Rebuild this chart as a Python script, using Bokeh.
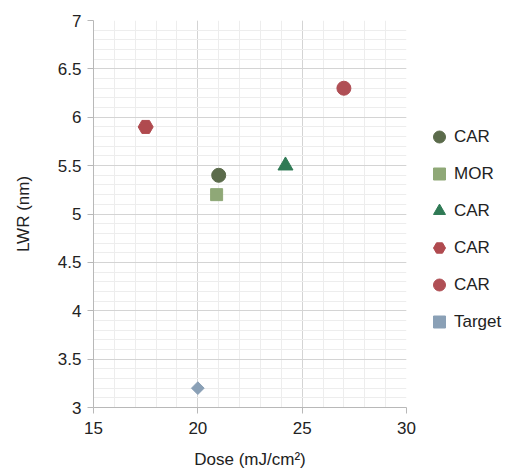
import math
from bokeh.plotting import figure
from bokeh.models import Legend, LegendItem, ColumnDataSource, FixedTicker
from bokeh.embed import file_html
from bokeh.resources import INLINE

labels = ["CAR", "MOR", "CAR", "CAR", "CAR", "Target"]
dose = [21.0, 20.9, 24.2, 17.5, 27.0, 20.0]
lwr = [5.4, 5.2, 5.5, 5.9, 6.3, 3.2]
colors = ["#5b6b4b", "#8fa877", "#2f7a55", "#b04a4f", "#b04f55", "#8aa0b6"]
markers = ["circle", "square", "triangle", "hex", "circle", "square"]
sizes = [14, 12, 15, 15, 14, 9]
angles = [0, 0, 0, 0, 0, math.pi / 4]

x_ticks = [15, 20, 25, 30]
y_ticks = [3, 3.5, 4, 4.5, 5, 5.5, 6, 6.5, 7]
x_minor = [15 + i for i in range(16)]
y_minor = [round(3 + 0.1 * i, 2) for i in range(41)]

p = figure(frame_width=313, frame_height=387, x_range=(15, 30), y_range=(3, 7),
           output_backend="svg", toolbar_location=None,
           min_border_left=93, min_border_top=20, min_border_bottom=62, min_border_right=0)
p.outline_line_color = None

font = "Liberation Sans"
for ax in (p.xaxis[0], p.yaxis[0]):
    ax.axis_line_color = "#b8b8b8"
    ax.major_tick_line_color = "#b8b8b8"
    ax.major_tick_out = 6
    ax.major_tick_in = 0
    ax.minor_tick_out = 0
    ax.minor_tick_in = 0
    ax.major_label_text_font = font
    ax.major_label_text_font_size = "17px"
    ax.major_label_text_color = "#222222"
    ax.axis_label_text_font = font
    ax.axis_label_text_font_size = "17px"
    ax.axis_label_text_font_style = "normal"
    ax.axis_label_text_color = "#222222"

xt = FixedTicker(ticks=x_ticks, minor_ticks=x_minor)
yt = FixedTicker(ticks=y_ticks, minor_ticks=y_minor)
p.xaxis.ticker = xt
p.yaxis.ticker = yt
p.xgrid.ticker = xt
p.ygrid.ticker = yt
p.xaxis.axis_label = "Dose (mJ/cm²)"
p.yaxis.axis_label = "LWR (nm)"
p.xaxis.major_label_standoff = 8
p.yaxis.major_label_standoff = 6
p.xaxis.axis_label_standoff = 13
p.yaxis.axis_label_standoff = 22

p.grid.grid_line_color = "#d4d4d4"
p.grid.grid_line_width = 1
p.grid.minor_grid_line_color = "#ededed"

items = []
for i in range(len(labels)):
    src = ColumnDataSource(dict(x=[dose[i]], y=[lwr[i]]))
    r = p.scatter("x", "y", source=src, marker=markers[i], size=sizes[i], angle=angles[i],
                  fill_color=colors[i], line_color=colors[i])
    items.append(LegendItem(label=labels[i], renderers=[r]))

legend = Legend(items=items, location=(18, 68), orientation="vertical",
                label_text_font=font, label_text_font_size="17px",
                label_text_color="#222222", background_fill_alpha=0,
                border_line_color=None, spacing=2, glyph_width=30,
                glyph_height=35, label_height=35, label_standoff=0,
                padding=0, margin=0)
p.add_layout(legend, "right")

open("out.html", "w").write(file_html(p, INLINE))
